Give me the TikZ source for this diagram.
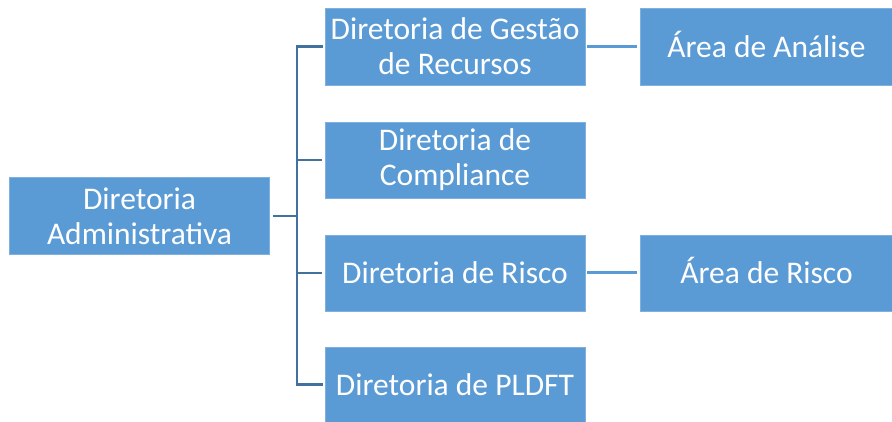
\documentclass[tikz,border=0pt]{standalone}
\usepackage{fontspec}
\setmainfont{Carlito}
\definecolor{boxblue}{HTML}{5B9BD5}
\definecolor{boxedge}{HTML}{7FB0DE}
\definecolor{linedark}{HTML}{41719C}
\begin{document}
\begin{tikzpicture}[x=1pt,y=-1pt,
  orgbox/.style={fill=boxblue,draw=boxedge,line width=0.8pt,text=white,align=center,
    font=\fontsize{31.5}{35}\selectfont,inner sep=0pt},
  mainline/.style={draw=linedark,line width=2.5pt},
  sideline/.style={draw=boxblue,line width=3pt}]
\useasboundingbox (0,0) rectangle (892,422);
\node[orgbox,minimum width=260,minimum height=77] (adm) at (139.5,216) {Diretoria\\Administrativa};
\node[orgbox,minimum width=260,minimum height=77] (ges) at (455,46.5) {Diretoria de Gestão\\de Recursos};
\node[orgbox,minimum width=260,minimum height=76] (com) at (455,160) {Diretoria de\\Compliance};
\node[orgbox,minimum width=260,minimum height=76] (ris) at (455,273) {Diretoria de Risco};
\node[orgbox,minimum width=260,minimum height=75] (pld) at (455,384.5) {Diretoria de PLDFT};
\node[orgbox,minimum width=253,minimum height=77] (ana) at (766.5,46.5) {\smash{Á}rea de Análise};
\node[orgbox,minimum width=253,minimum height=76] (are) at (766.5,273) {\smash{Á}rea de Risco};
\coordinate (bus) at (297,216);
\draw[mainline] ([xshift=3pt]adm.east) -- (bus);
\draw[mainline,line cap=rect] ([xshift=-3pt]ges.west) -| (bus) |- ([xshift=-3pt]pld.west);
\draw[mainline] ([xshift=-3pt]com.west) -- (com.west -| bus);
\draw[mainline] ([xshift=-3pt]ris.west) -- (ris.west -| bus);
\draw[sideline] ([xshift=2pt]ges.east) -- ([xshift=-3pt]ana.west);
\draw[sideline] ([xshift=2pt]ris.east) -- ([xshift=-3pt]are.west);
\end{tikzpicture}
\end{document}
